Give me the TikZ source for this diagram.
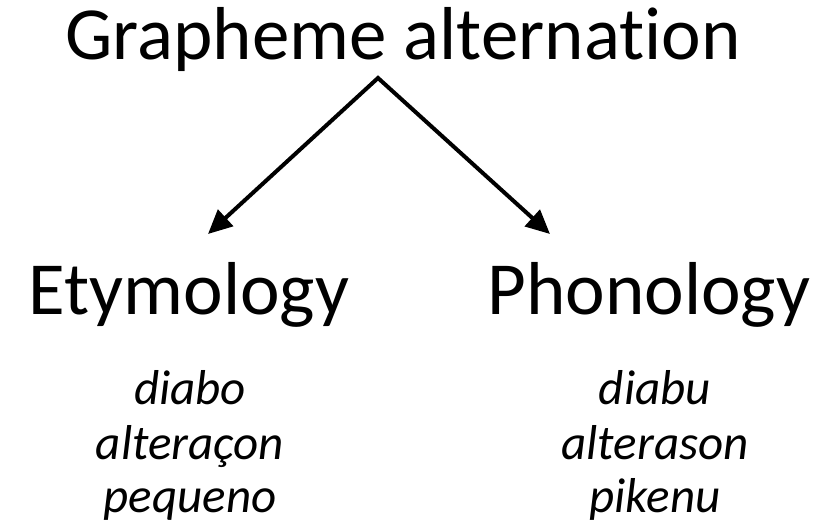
\documentclass[tikz,border=0pt]{standalone}
\usepackage{fontspec}
\setmainfont{Carlito}[Ligatures=NoCommon]
\usetikzlibrary{arrows.meta}
\begin{document}
\begin{tikzpicture}[x=1pt,y=1pt,
  big/.style={font=\fontsize{75}{90}\selectfont, inner sep=0pt, anchor=base},
  word/.style={font=\fontsize{49}{58}\selectfont\itshape, inner sep=0pt, anchor=base},
  arr/.style={line width=4pt, line join=miter, {Triangle[length=24pt,width=22pt]}-{Triangle[length=24pt,width=22pt]}}]
\useasboundingbox (0,0) rectangle (835,530);
\node[big] (title) at (403,470) {Grapheme alternation};
\node[big] (ety) at (189,215) {Etymology};
\node[big] (pho) at (649,215) {Phonology};
\node[word] (e1) at (190,125) {diabo};
\node[word] (e2) at (190,70) {alteraçon};
\node[word] (e3) at (190,18) {pequeno};
\node[word] (p1) at (655,125) {diabu};
\node[word] (p2) at (655,70) {alterason};
\node[word] (p3) at (655,18) {pikenu};
\coordinate (apex) at (378,452);
\coordinate (tipL) at (208,296);
\coordinate (tipR) at (550,296);
\draw[arr] (tipL) -- (apex) -- (tipR);
\end{tikzpicture}
\end{document}
